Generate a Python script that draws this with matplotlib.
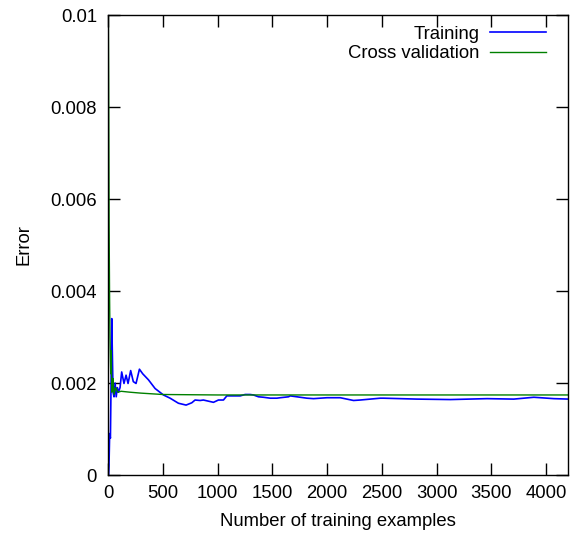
import matplotlib
matplotlib.use("Agg")
import matplotlib.pyplot as plt

plt.rcParams['font.family'] = ['Liberation Sans', 'DejaVu Sans']

train_x = [0, 5, 9, 15, 22, 28, 34, 40, 46, 55, 65, 75, 85, 95, 110, 125, 146, 165, 183, 207,
           231, 256, 287, 317, 369, 430, 506, 567, 643, 713, 765, 795, 841, 871, 963, 1008,
           1054, 1085, 1207, 1252, 1298, 1328, 1374, 1420, 1481, 1542, 1572, 1648, 1664, 1755,
           1816, 1877, 1999, 2029, 2121, 2181, 2242, 2303, 2486, 2516, 2669, 2821, 3126, 3461,
           3705, 3888, 4071, 4209]
train_y = [0.0, 0.0, 0.0002, 0.0009, 0.0008, 0.0020, 0.0034, 0.0026, 0.0018, 0.0017, 0.0020,
           0.0017, 0.0019, 0.0018, 0.0019, 0.00224, 0.00199, 0.00217, 0.00199, 0.00227,
           0.00203, 0.00199, 0.0023, 0.0022, 0.00207, 0.00188, 0.00174, 0.00167, 0.00156,
           0.00152, 0.00157, 0.00163, 0.00162, 0.00163, 0.00158, 0.00163, 0.00163, 0.00172,
           0.00172, 0.00175, 0.00175, 0.00174, 0.0017, 0.00169, 0.00167, 0.00167, 0.00168,
           0.0017, 0.00172, 0.00169, 0.00167, 0.00166, 0.00168, 0.00168, 0.00168, 0.00165,
           0.00162, 0.00163, 0.00167, 0.00167, 0.00166, 0.00165, 0.00164, 0.00166, 0.00165,
           0.00169, 0.00166, 0.00165]

cv_x = [0, 3, 6, 10, 14, 18, 22, 25, 30, 35, 40, 45, 55, 70, 90, 120, 200, 300, 500, 1000,
        2000, 3000, 4209]
cv_y = [0.0105, 0.0100, 0.0085, 0.0055, 0.0040, 0.0030, 0.0025, 0.0022, 0.0027, 0.0018,
        0.0019, 0.0021, 0.00175, 0.0019, 0.0018, 0.00182, 0.0018, 0.00178, 0.00175, 0.00174,
        0.00174, 0.00174, 0.00174]

x_ticks = [0, 500, 1000, 1500, 2000, 2500, 3000, 3500, 4000]
y_ticks = [0, 0.002, 0.004, 0.006, 0.008, 0.01]
y_tick_labels = ["0", "0.002", "0.004", "0.006", "0.008", "0.01"]

FS = 13.3

fig = plt.figure(figsize=(5.76, 5.38), dpi=100)
ax = fig.add_axes([108/576, 1-475/538, 460/576, 460/538])

ax.plot(train_x, train_y, color='#0000ff', lw=1.2, label='Training')
ax.plot(cv_x, cv_y, color='#008000', lw=1.0, label='Cross validation')

ax.set_xlim(0, 4200)
ax.set_ylim(0, 0.01)
ax.set_xticks(x_ticks)
ax.set_yticks(y_ticks)
ax.set_yticklabels(y_tick_labels)
ax.tick_params(direction='in', length=8.5, width=1, top=True, right=True, labelsize=FS)
ax.tick_params(axis='x', pad=7)
ax.tick_params(axis='y', pad=8)
for s in ax.spines.values():
    s.set_linewidth(1)

ax.set_xlabel('Number of training examples', fontsize=FS, labelpad=8)
ax.set_ylabel('Error', fontsize=FS, labelpad=13)

leg = ax.legend(loc='upper right', frameon=False, markerfirst=False, fontsize=FS,
                handlelength=3.0, borderaxespad=0.3, labelspacing=0.15, handletextpad=0.6,
                bbox_to_anchor=(0.98, 1.005))
for t in leg.get_texts():
    t.set_ha('right')

fig.savefig('out.png', dpi=100)
